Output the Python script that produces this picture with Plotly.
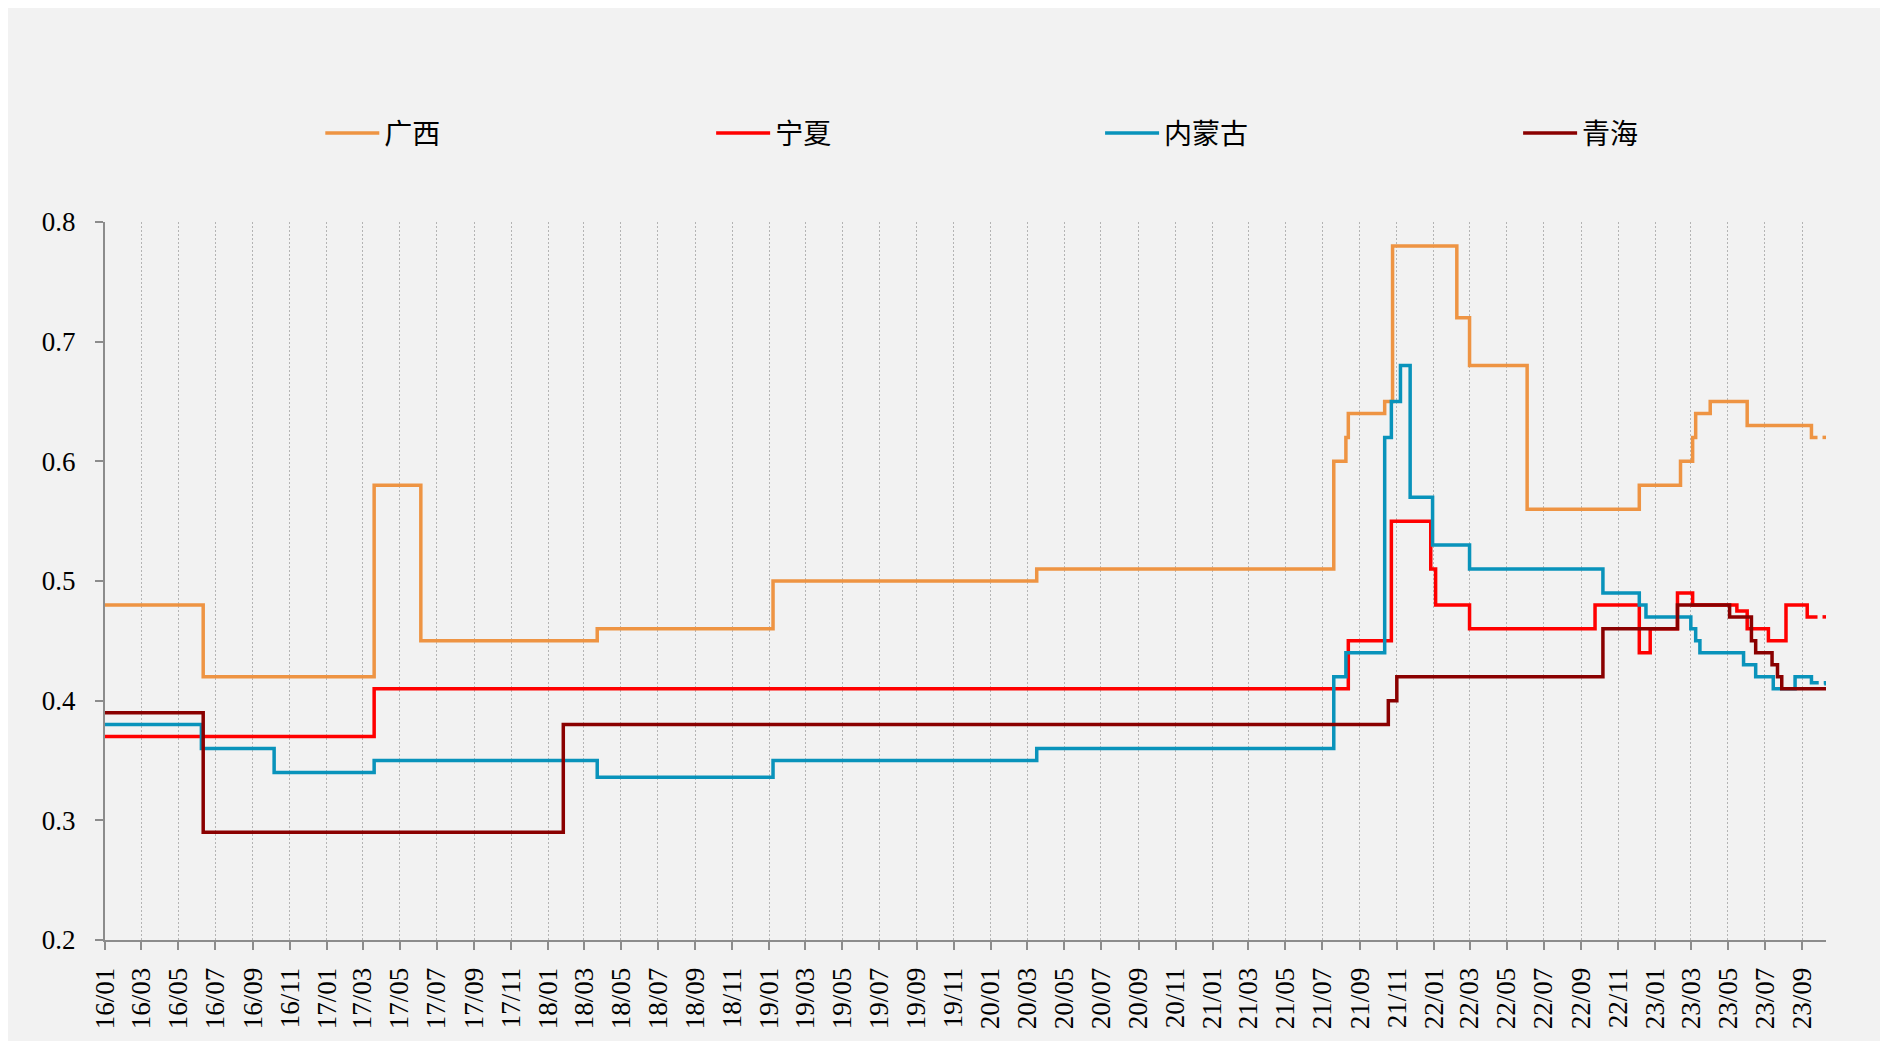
import plotly.graph_objects as go

# ---------------- data (step series: change dates and values) ----------------
guangxi_dates = ["2016-01-01", "2016-06-11", "2017-03-20", "2017-06-05", "2018-03-23",
                 "2019-01-07", "2020-03-17", "2021-07-20", "2021-08-09", "2021-08-13",
                 "2021-10-12", "2021-10-25", "2022-02-08", "2022-03-01", "2022-06-04",
                 "2022-12-06", "2023-02-12", "2023-03-04", "2023-03-09", "2023-04-02",
                 "2023-06-02", "2023-09-16", "2023-09-26"]
guangxi_values = [0.48, 0.42, 0.58, 0.45, 0.46,
                  0.50, 0.51, 0.60, 0.62, 0.64,
                  0.65, 0.78, 0.72, 0.68, 0.56,
                  0.58, 0.60, 0.62, 0.64, 0.65,
                  0.63, 0.62, 0.62]
guangxi_tail_dates = ["2023-09-26", "2023-10-10"]
guangxi_tail_values = [0.62, 0.62]

ningxia_dates = ["2016-01-01", "2017-03-20", "2021-08-13", "2021-10-23", "2021-12-27",
                 "2022-01-04", "2022-03-01", "2022-09-24", "2022-12-06", "2022-12-24",
                 "2023-02-07", "2023-03-04", "2023-05-16", "2023-06-02", "2023-07-07",
                 "2023-08-05", "2023-09-09", "2023-09-26"]
ningxia_values = [0.37, 0.41, 0.45, 0.55, 0.51,
                  0.48, 0.46, 0.48, 0.44, 0.46,
                  0.49, 0.48, 0.475, 0.46, 0.45,
                  0.48, 0.47, 0.47]
ningxia_tail_dates = ["2023-09-26", "2023-10-10"]
ningxia_tail_values = [0.47, 0.47]

neimenggu_dates = ["2016-01-01", "2016-06-08", "2016-10-06", "2017-03-20", "2018-03-23",
                   "2019-01-07", "2020-03-17", "2021-07-20", "2021-08-09", "2021-10-12",
                   "2021-10-23", "2021-11-07", "2021-11-23", "2021-12-30", "2022-03-01",
                   "2022-10-07", "2022-12-06", "2022-12-17", "2023-03-01", "2023-03-09",
                   "2023-03-16", "2023-05-27", "2023-06-16", "2023-07-15", "2023-08-20",
                   "2023-09-16", "2023-09-28"]
neimenggu_values = [0.38, 0.36, 0.34, 0.35, 0.336,
                    0.35, 0.36, 0.42, 0.44, 0.62,
                    0.65, 0.68, 0.57, 0.53, 0.51,
                    0.49, 0.48, 0.47, 0.46, 0.45,
                    0.44, 0.43, 0.42, 0.41, 0.42,
                    0.415, 0.415]
neimenggu_tail_dates = ["2023-09-28", "2023-10-10"]
neimenggu_tail_values = [0.415, 0.41]

qinghai_dates = ["2016-01-01", "2016-06-11", "2018-01-26", "2021-10-18", "2021-11-01",
                 "2022-10-07", "2023-02-07", "2023-05-04", "2023-06-09", "2023-06-16",
                 "2023-07-13", "2023-07-22", "2023-07-29", "2023-10-10"]
qinghai_values = [0.39, 0.29, 0.38, 0.40, 0.42,
                  0.46, 0.48, 0.47, 0.45, 0.44,
                  0.43, 0.42, 0.41, 0.41]

series_names = ["广西", "宁夏", "内蒙古", "青海"]
series_colors = ["#EE9443", "#FF0000", "#0993BB", "#8A0000"]

x_range = ["2016-01-01", "2023-10-10"]
y_range = [0.2, 0.8]

# ---------------- figure ----------------
fig = go.Figure()

main = [(guangxi_dates, guangxi_values), (ningxia_dates, ningxia_values),
        (neimenggu_dates, neimenggu_values), (qinghai_dates, qinghai_values)]
tails = [(guangxi_tail_dates, guangxi_tail_values), (ningxia_tail_dates, ningxia_tail_values),
         (neimenggu_tail_dates, neimenggu_tail_values), None]
legend_ids = ["legend", "legend2", "legend3", "legend4"]

for i, ((xs, ys), name, color) in enumerate(zip(main, series_names, series_colors)):
    fig.add_trace(go.Scatter(
        x=xs, y=ys, name=name, mode="lines",
        line=dict(color=color, width=3.5, shape="hv"),
        legend=legend_ids[i], showlegend=True, hoverinfo="x+y+name",
    ))
    if tails[i] is not None:
        tx, ty = tails[i]
        fig.add_trace(go.Scatter(
            x=tx, y=ty, mode="lines", showlegend=False,
            line=dict(color=color, width=3.5, shape="hv", dash="0px,5px,5px,20px"),
            hoverinfo="skip",
        ))

axis_color = "#8C8C8C"
serif_family = "Liberation Serif"
tick_font = dict(family=serif_family, size=27, color="#000000")

fig.update_xaxes(
    type="date", range=x_range,
    tick0="2016-01-01", dtick="M2", tickformat="%y/%m", tickangle=-90,
    showline=True, linecolor=axis_color, linewidth=2,
    ticks="outside", ticklen=8, tickwidth=2, tickcolor=axis_color,
    showgrid=True, gridcolor="#B4B4B4", gridwidth=1, griddash="2px,2px",
    tickfont=tick_font, ticklabelstandoff=7, automargin=False,
    zeroline=False,
)
fig.update_yaxes(
    range=y_range, dtick=0.1, tick0=0.2, tickformat=".1f",
    showline=True, linecolor=axis_color, linewidth=2,
    ticks="outside", ticklen=8, tickwidth=2, tickcolor=axis_color,
    showgrid=False, zeroline=False, automargin=False,
    tickfont=tick_font, ticklabelstandoff=14,
)

legend_font = dict(family="Noto Sans CJK SC", size=28, color="#000000")
legend_x = [0.1251, 0.3522, 0.5782, 0.8211]
legend_common = dict(orientation="h", yanchor="middle", y=1.1235, xanchor="left",
                     bgcolor="rgba(0,0,0,0)", font=legend_font, itemwidth=54,
                     itemclick=False, itemdoubleclick=False)
fig.update_layout(
    width=1880, height=1033,
    font=dict(family=serif_family, size=27, color="#000000"),
    margin=dict(l=97, r=62, t=213.5, b=100.6, pad=0, autoexpand=False),
    paper_bgcolor="#F2F2F2", plot_bgcolor="#F2F2F2",
    legend=dict(x=legend_x[0], **legend_common),
    legend2=dict(x=legend_x[1], **legend_common),
    legend3=dict(x=legend_x[2], **legend_common),
    legend4=dict(x=legend_x[3], **legend_common),
    hovermode="closest",
)

fig.write_html("out.html")
